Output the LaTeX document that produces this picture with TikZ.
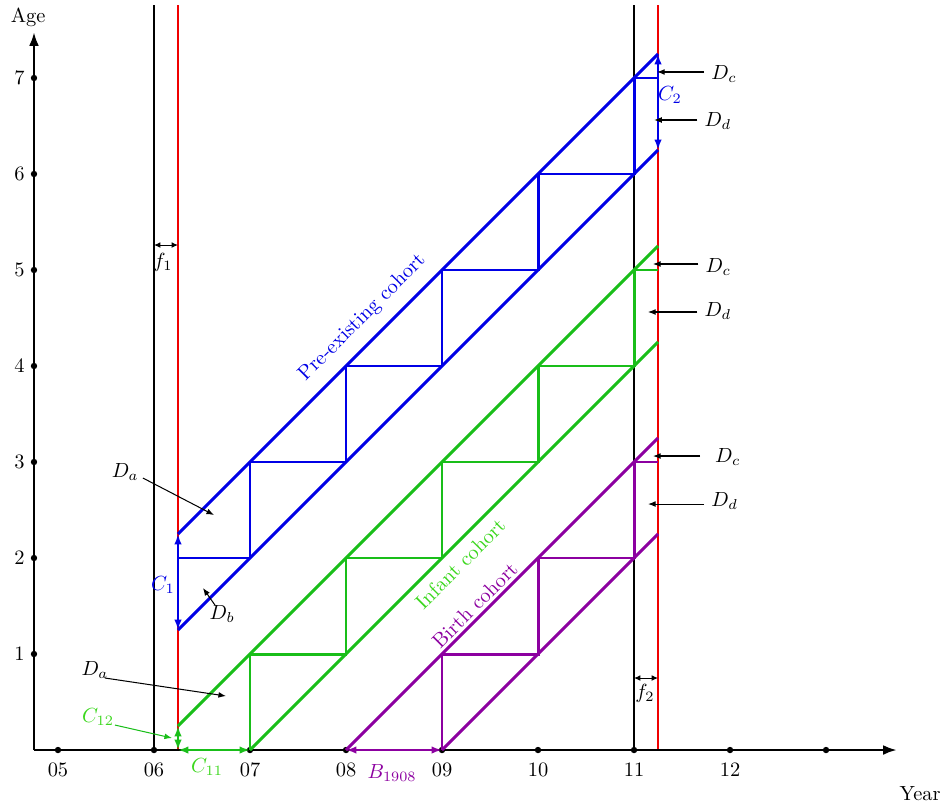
\documentclass[tikz,border=0pt]{standalone}
\usetikzlibrary{arrows.meta}
\definecolor{cblue}{RGB}{0,0,230}
\definecolor{cgreen}{RGB}{25,190,25}
\definecolor{cgreentxt}{RGB}{60,215,30}
\definecolor{cpurple}{RGB}{140,0,160}
\definecolor{cred}{RGB}{240,0,0}
\tikzset{
  axisline/.style={line width=1.4pt,-{Latex[length=2.4mm,width=1.7mm]}},
  vblack/.style={line width=1pt,black},
  vred/.style={line width=1pt,cred},
  coh/.style={line width=1.45pt,line join=miter},
  dbl/.style={line width=1.3pt,{Latex[length=1.8mm,width=1.3mm]}-{Latex[length=1.8mm,width=1.3mm]}},
  fdbl/.style={line width=0.5pt,{Latex[length=1.1mm,width=1mm]}-{Latex[length=1.1mm,width=1mm]}},
  ann/.style={line width=0.5pt,-{Latex[length=1.3mm,width=1mm]}},
  tickdot/.style={circle,fill=black,inner sep=0pt,minimum size=1.1mm},
}
\begin{document}
\begin{tikzpicture}[x=1.65cm,y=1.65cm]
\useasboundingbox (4.396,-0.573) rectangle (14.229,7.8125);

% vertical period lines
\draw[vblack] (6,0) -- (6,7.76);
\draw[vblack] (11,0) -- (11,7.76);
\draw[vred] (6.25,0) -- (6.25,7.76);
\draw[vred] (11.25,0) -- (11.25,7.76);

% axes
\draw[axisline] (4.75,0) -- (13.74,0);
\draw[axisline] (4.75,0) -- (4.75,7.48);
\node (agelab) at (4.69,7.63) {Age};
\node (yearlab) at (13.98,-0.45) {Year};
\foreach \yr/\lab in {5/05,6/06,7/07,8/08,9/09,10/10,11/11,12/12}{
  \node[tickdot] (xt\yr) at (\yr,0) {};
  \node (xl\yr) at (\yr,-0.21) {\lab};
}
\node[tickdot] (xt13) at (13,0) {};
\foreach \a in {1,...,7}{
  \node[tickdot] (yt\a) at (4.75,\a) {};
  \node (yl\a) at (4.60,\a) {\a};
}

% blue cohort
\draw[coh,cblue] (6.25,1.25) -- (11.25,6.25);
\draw[coh,cblue] (6.25,2.25) -- (11.25,7.25);
\draw[coh,cblue] (6.25,2) -- (7,2) -- (7,3) -- (8,3) -- (8,4) -- (9,4) -- (9,5) -- (10,5) -- (10,6) -- (11,6) -- (11,7) -- (11.25,7);
% green cohort
\draw[coh,cgreen] (7,0) -- (11.25,4.25);
\draw[coh,cgreen] (6.25,0.25) -- (11.25,5.25);
\draw[coh,cgreen] (7,0) -- (7,1) -- (8,1) -- (8,2) -- (9,2) -- (9,3) -- (10,3) -- (10,4) -- (11,4) -- (11,5) -- (11.25,5);
% purple cohort
\draw[coh,cpurple] (9,0) -- (11.25,2.25);
\draw[coh,cpurple] (8,0) -- (11.25,3.25);
\draw[coh,cpurple] (9,0) -- (9,1) -- (10,1) -- (10,2) -- (11,2) -- (11,3) -- (11.25,3);

% cohort labels
\node[cblue,rotate=45] (preex) at (8.17,4.50) {Pre-existing cohort};
\node[cgreentxt,rotate=45] (infant) at (9.19,1.94) {Infant cohort};
\node[cpurple,rotate=45] (birth) at (9.34,1.51) {Birth cohort};

% double arrows
\coordinate (c1a) at (6.25,2.25); \coordinate (c1b) at (6.25,1.25);
\draw[dbl,cblue] (c1a) -- (c1b);
\node[cblue] (c1lab) at (6.094,1.72) {$C_1$};
\coordinate (c2a) at (11.25,7.25); \coordinate (c2b) at (11.25,6.25);
\draw[dbl,cblue] (c2a) -- (c2b);
\node[cblue] (c2lab) at (11.375,6.82) {$C_2$};
\coordinate (c12a) at (6.25,0.25); \coordinate (c12b) at (6.25,0);
\draw[dbl,cgreen] (c12a) -- (c12b);
\coordinate (c11a) at (6.25,0); \coordinate (c11b) at (7,0);
\draw[dbl,cgreen] (c11a) -- (c11b);
\node[cgreentxt] (c11lab) at (6.552,-0.18) {$C_{11}$};
\coordinate (ba) at (8,0); \coordinate (bb) at (9,0);
\draw[dbl,cpurple] (ba) -- (bb);
\node[cpurple] (blab) at (8.48,-0.24) {$B_{1908}$};

% f arrows
\coordinate (f1a) at (6,5.26); \coordinate (f1b) at (6.25,5.26);
\draw[fdbl] (f1a) -- (f1b);
\node (f1lab) at (6.094,5.08) {$f_1$};
\coordinate (f2a) at (11,0.75); \coordinate (f2b) at (11.25,0.75);
\draw[fdbl] (f2a) -- (f2b);
\node (f2lab) at (11.115,0.59) {$f_2$};

% annotations left
\node (dab) at (5.70,2.90) {$D_a$};
\coordinate (dabt) at (6.625,2.448);
\draw[ann] (5.885,2.833) -- (dabt);
\node (db) at (6.71,1.42) {$D_b$};
\coordinate (dbt) at (6.51,1.6875);
\draw[ann] (6.635,1.51) -- (dbt);
\node (dag) at (5.385,0.835) {$D_a$};
\coordinate (dagt) at (6.75,0.5625);
\draw[ann] (5.49,0.75) -- (dagt);
\node[cgreentxt] (c12lab) at (5.417,0.344) {$C_{12}$};
\coordinate (c12t) at (6.1875,0.125);
\draw[ann,cgreen] (5.594,0.26) -- (c12t);

% annotations right
\node[anchor=west] (dcb) at (11.73,7.04) {$D_c$};
\coordinate (dcbt) at (11.24,7.0625);
\draw[ann] (dcb.west |- dcbt) -- (dcbt);
\node[anchor=west] (ddb) at (11.66,6.55) {$D_d$};
\coordinate (ddbt) at (11.21,6.5625);
\draw[ann] (ddb.west |- ddbt) -- (ddbt);
\node[anchor=west] (dcg) at (11.67,5.03) {$D_c$};
\coordinate (dcgt) at (11.198,5.0625);
\draw[ann] (dcg.west |- dcgt) -- (dcgt);
\node[anchor=west] (ddg) at (11.66,4.575) {$D_d$};
\coordinate (ddgt) at (11.146,4.5625);
\draw[ann] (ddg.west |- ddgt) -- (ddgt);
\node[anchor=west] (dcp) at (11.77,3.05) {$D_c$};
\coordinate (dcpt) at (11.198,3.0625);
\draw[ann] (11.6875,3.0625) -- (dcpt);
\node[anchor=west] (ddp) at (11.73,2.595) {$D_d$};
\coordinate (ddpt) at (11.146,2.5625);
\draw[ann] (ddp.west |- ddpt) -- (ddpt);
\end{tikzpicture}
\end{document}
